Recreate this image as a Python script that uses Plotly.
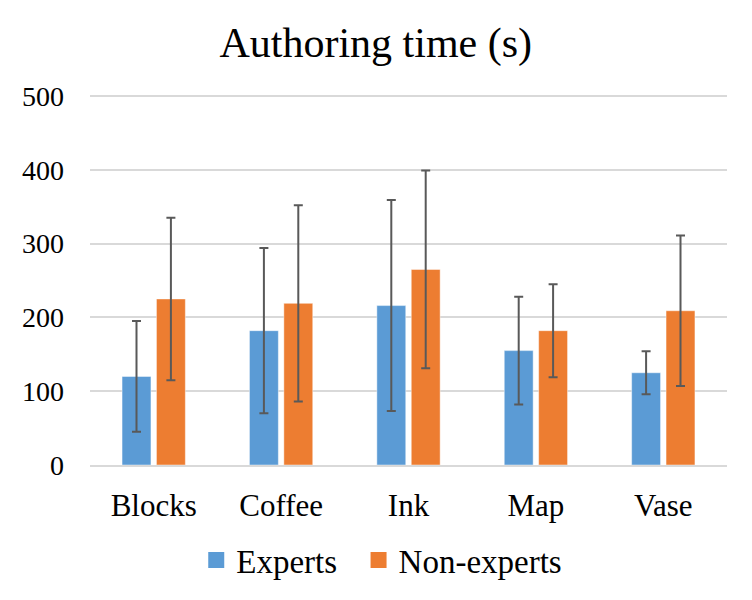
import plotly.graph_objects as go

categories = ["Blocks", "Coffee", "Ink", "Map", "Vase"]
experts_mean = [120, 182, 216, 155, 125]
experts_err = [75, 112, 143, 73, 29]
nonexperts_mean = [225, 219, 265, 182, 209]
nonexperts_err = [110, 133, 134, 63, 102]
y_ticks = [0, 100, 200, 300, 400, 500]
series_names = ["Experts", "Non-experts"]
series_colors = ["#5B9BD5", "#ED7D31"]

FONT = "Liberation Serif"

fig = go.Figure()
for name, color, mean, err in zip(series_names, series_colors,
                                  [experts_mean, nonexperts_mean],
                                  [experts_err, nonexperts_err]):
    fig.add_trace(go.Bar(
        x=categories, y=mean, name=name, showlegend=False,
        marker=dict(color=color, line=dict(color="rgba(255,255,255,0.45)", width=1)),
        error_y=dict(type="data", array=err, visible=True,
                     color="#595959", thickness=2, width=4.5),
    ))
# legend entries with larger square swatches (trailing nbsp widens the gap between entries)
for i, (name, color) in enumerate(zip(series_names, series_colors)):
    label = name + ("\u00a0\u00a0" if i < len(series_names) - 1 else "")
    fig.add_trace(go.Scatter(
        x=[None], y=[None], mode="markers", name=label,
        marker=dict(symbol="square", size=16, color=color),
    ))

fig.update_layout(
    width=752, height=600,
    paper_bgcolor="white", plot_bgcolor="white",
    font=dict(family=FONT, size=28, color="#000000"),
    title=dict(text="Authoring time (s)", x=0.489, xanchor="center", xref="container",
               y=0.943, yref="container", yanchor="middle", font=dict(size=42, family=FONT),
               automargin=False),
    margin=dict(l=82, r=33, t=86, b=143, autoexpand=False),
    barmode="group", bargap=0.46, bargroupgap=0.16,
    showlegend=True,
    legend=dict(orientation="h", x=0.497, xanchor="center", xref="container",
                y=0.08, yref="container", yanchor="middle",
                font=dict(size=33, family=FONT), itemwidth=30, traceorder="normal",
                tracegroupgap=0, itemclick=False),
    xaxis=dict(showline=True, linecolor="#D9D9D9", linewidth=1.5, ticks="",
               tickfont=dict(size=31), showgrid=False, automargin=False,
               ticklabelstandoff=12),
    yaxis=dict(range=[0, 502.7], tickvals=y_ticks, showgrid=True, gridcolor="#D9D9D9",
               gridwidth=1.5, zeroline=False, showline=False, ticks="",
               tickfont=dict(size=28), ticklabelstandoff=25, automargin=False),
)

fig.write_html("out.html")
